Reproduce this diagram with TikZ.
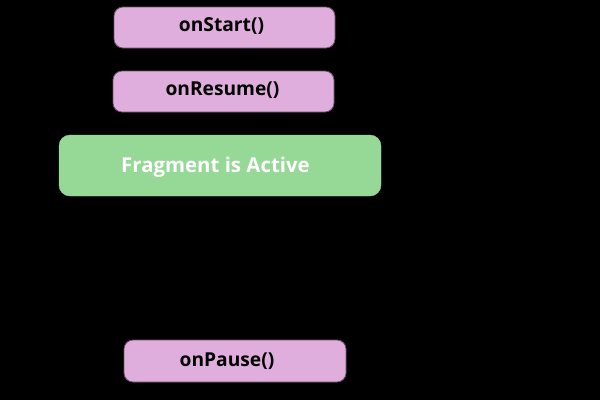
\documentclass[tikz,border=0pt]{standalone}
\usepackage{fontspec}
\setmainfont{Open Sans}
\begin{document}
\begin{tikzpicture}[x=1pt,y=-1pt,
  pinkbox/.style={draw=pinkline, fill=pinkfill, line width=0.8pt, rounded corners=9pt, minimum width=221pt, minimum height=41pt, inner sep=0pt},
  greenbox/.style={draw=greenfill, fill=greenfill, rounded corners=11pt, minimum width=322pt, minimum height=61pt, inner sep=0pt},
  pinklbl/.style={anchor=base, inner sep=0pt, font=\fontsize{19.2}{22}\selectfont\bfseries, text=black},
  greenlbl/.style={anchor=base, inner sep=0pt, font=\fontsize{20.4}{24}\selectfont\bfseries, text=white}]
\definecolor{pinkfill}{RGB}{224,174,221}
\definecolor{pinkline}{RGB}{110,80,110}
\definecolor{greenfill}{RGB}{150,217,151}
\fill[black] (0,0) rectangle (600,400);
\useasboundingbox (0,0) rectangle (600,400);
\node[pinkbox] (start) at (224.5,27.5) {};
\node[pinkbox] (resume) at (223.5,91.5) {};
\node[greenbox] (active) at (220,165.5) {};
\node[pinkbox, minimum width=222pt, minimum height=42pt] (pause) at (235,361) {};
\node[pinklbl] (startlbl) at (221.5,31.5) {onStart()};
\node[pinklbl] (resumelbl) at (222.5,95.8) {onResume()};
\node[greenlbl] (activelbl) at (215.5,172.3) {Fragment is Active};
\node[pinklbl] (pauselbl) at (227,366) {onPause()};
\end{tikzpicture}
\end{document}
